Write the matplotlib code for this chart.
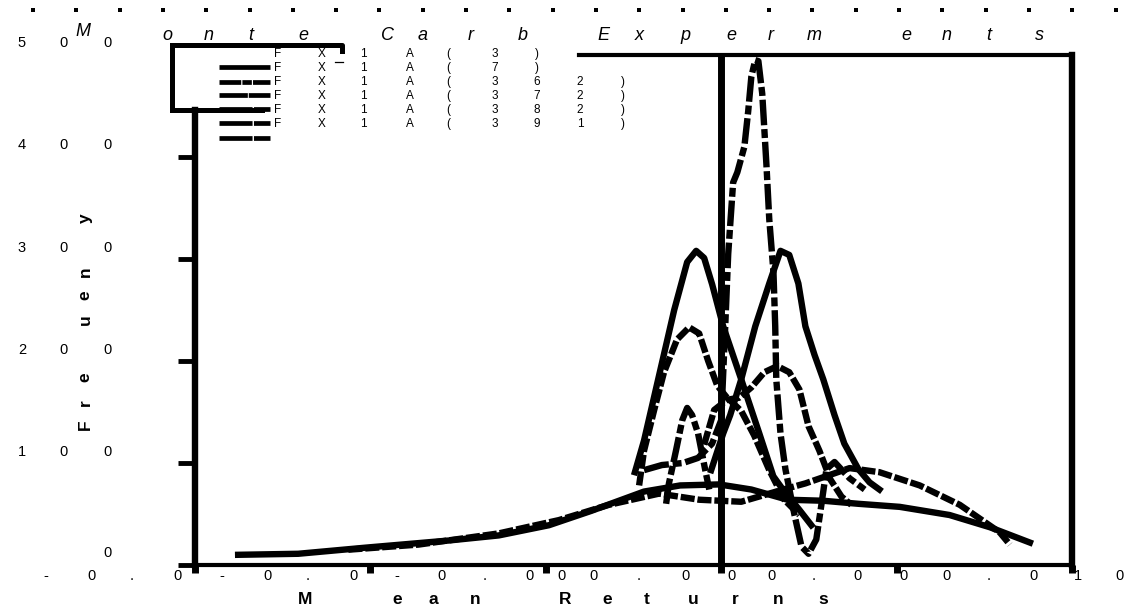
import matplotlib
matplotlib.use("Agg")
import matplotlib.pyplot as plt
from matplotlib.lines import Line2D

plt.rcParams["font.family"] = ["Liberation Sans", "DejaVu Sans"]

# ---- simulated mean-return densities (return, frequency) ----
broad_solid_x = [-0.01377, -0.01206, -0.01014, -0.00777, -0.00634, -0.00491, -0.00371, -0.0022,
                 -0.00117, -0.00006, 0.00086, 0.00189, 0.00291, 0.00391, 0.00509, 0.00651, 0.00766, 0.0088]
broad_solid_y = [10, 11, 17, 24, 29, 39, 53, 72, 78, 79, 74, 64, 63, 60, 57, 49, 37, 22]

broad_dash_x = [-0.01063, -0.00863, -0.00634, -0.00463, -0.0032, -0.00177, -0.00063, 0.00057,
                0.00177, 0.0024, 0.00366, 0.00451, 0.00566, 0.0068, 0.00794, 0.00823]
broad_dash_y = [15, 20, 31, 44, 59, 70, 64, 62, 74, 80, 95, 91, 78, 59, 32, 20]

left_solid_x = [-0.00246, -0.0022, -0.00177, -0.00134, -0.00097, -0.000714, -0.000486, -0.000257,
                0.000057, 0.000571, 0.001086, 0.001486, 0.0018, 0.00223, 0.00257]
left_solid_y = [91, 122, 186, 250, 297, 308, 301, 275, 234, 182, 129, 87, 72, 54, 39]

left_dash_x = [-0.00234, -0.0022, -0.00191, -0.00163, -0.00126, -0.000914, -0.000629, -0.000371,
               -0.000114, 0.000143, 0.000571, 0.00094, 0.00137, 0.0018, 0.00223]
left_dash_y = [78, 112, 152, 189, 221, 233, 227, 200, 176, 165, 151, 127, 93, 64, 49]

right_solid_x = [-0.000286, 0.000057, 0.000257, 0.000571, 0.000971, 0.00137, 0.00169, 0.00194,
                 0.0022, 0.0024, 0.00266, 0.00291, 0.00323, 0.00351, 0.00391, 0.00423, 0.00451]
right_solid_y = [93, 129, 147, 182, 234, 276, 308, 304, 276, 234, 206, 182, 147, 119, 94, 81, 74]

right_dash_x = [-0.000486, -0.0002, 0.000171, 0.000514, 0.000857, 0.00123, 0.0016, 0.00194,
                0.00223, 0.00249, 0.0028, 0.00311, 0.00343, 0.00371]
right_dash_y = [118, 152, 162, 164, 174, 189, 195, 189, 172, 136, 112, 84, 67, 59]

small_bump_x = [-0.00157, -0.00149, -0.00129, -0.00111, -0.00097, -0.00083, -0.00066, -0.00046, -0.00034]
small_bump_y = [60, 80, 112, 142, 154, 147, 129, 94, 74]

tall_x = [-0.0022, -0.00169, -0.00109, -0.00066, -0.00026, 0.0, 0.00011, 0.0002, 0.00034, 0.00046,
          0.00066, 0.00077, 0.00086, 0.00097, 0.00106, 0.00117, 0.00129, 0.00137, 0.00149, 0.00154,
          0.00157, 0.00169, 0.00183, 0.00209, 0.00229, 0.00249, 0.00271, 0.00286, 0.003, 0.00323,
          0.00366, 0.00409]
tall_y = [93, 98, 100, 105, 119, 142, 230, 305, 375, 385, 410, 445, 479, 495, 494, 462, 392, 339,
          287, 234, 182, 129, 94, 49, 18, 11, 25, 60, 94, 101, 85, 74]

x_ticks = [-0.015, -0.01, -0.005, 0.0, 0.005, 0.01]
y_ticks = [0, 100, 200, 300, 400]

legend_labels = ["3", "7", "362", "372", "382", "391"]

W, H = 1129, 610


def fx(px):
    return px / W


def fy(py):
    return 1 - py / H


fig = plt.figure(figsize=(W / 100, H / 100), dpi=100)
ax = fig.add_axes([fx(195), fy(565), (1072 - 195) / W, (565 - 55) / H])
ax.set_xlim(-0.015, 0.01)
ax.set_ylim(0, 500)

LW = 4.6
dashed = (0, (2.2, 0.45))
dashdot = (0, (4.0, 0.6, 1.4, 0.6))

ax.plot(broad_solid_x, broad_solid_y, color="k", lw=LW, solid_joinstyle="round")
ax.plot(broad_dash_x, broad_dash_y, color="k", lw=LW, ls=dashed)
ax.plot(left_solid_x, left_solid_y, color="k", lw=LW, solid_joinstyle="round")
ax.plot(left_dash_x, left_dash_y, color="k", lw=LW, ls=dashed)
ax.plot(right_solid_x, right_solid_y, color="k", lw=LW, solid_joinstyle="round")
ax.plot(right_dash_x, right_dash_y, color="k", lw=LW, ls=dashed)
ax.plot(small_bump_x, small_bump_y, color="k", lw=LW, ls=dashdot)
ax.plot(tall_x, tall_y, color="k", lw=LW, ls=dashdot)

ax.axvline(0, color="k", lw=5)

ax.set_xticks(x_ticks)
ax.set_yticks(y_ticks)
ax.tick_params(axis="x", direction="out", length=6, width=5, labelbottom=False)
ax.tick_params(axis="y", direction="out", length=12, width=3.5, labelleft=False)
for side in ("left", "right"):
    ax.spines[side].set_linewidth(4.6)
for side in ("top", "bottom"):
    ax.spines[side].set_linewidth(3)
ax.spines["left"].set_bounds(0, 446)
ax.spines["top"].set_bounds(-0.00406, 0.01)

# top dotted rule
fig.add_artist(Line2D([fx(33 + 43.3 * k) for k in range(26)], [fy(10)] * 26,
                      transform=fig.transFigure, ls="none", marker="s", ms=3.4, color="k",
                      markeredgewidth=0))

# title, spread letter by letter
title_chars = [("M", 83, 32), ("o", 167, 35), ("n", 209, 35), ("t", 251, 35), ("e", 303, 35),
               ("C", 387, 35), ("a", 423, 35), ("r", 471, 35), ("b", 523, 35),
               ("E", 603, 35), ("x", 639, 35), ("p", 685, 35), ("e", 731, 35), ("r", 771, 35),
               ("m", 814, 35), ("e", 906, 35), ("n", 947, 35), ("t", 989, 35), ("s", 1039, 35)]
for ch, x, y in title_chars:
    fig.text(fx(x), fy(y), ch, ha="center", va="center", fontsize=13, style="italic")

# y tick labels
for val, y in [("500", 43), ("400", 145), ("300", 248), ("200", 350), ("100", 452)]:
    for ch, x in zip(val, (22, 64, 108)):
        fig.text(fx(x), fy(y), ch, ha="center", va="center", fontsize=10.5)
fig.text(fx(108), fy(553), "0", ha="center", va="center", fontsize=10.5)

# x tick labels
xchars = "-0.0-0.0-0.000.000.000.010"
xpos = [46, 92, 132, 178, 222, 267, 308, 354, 397, 442, 485, 530, 561, 594,
        639, 685, 731, 771, 814, 858, 904, 947, 989, 1033, 1078, 1120]
for ch, x in zip(xchars, xpos):
    fig.text(fx(x), fy(576), ch, ha="center", va="center", fontsize=10.5)

# axis labels
for ch, x in [("M", 305), ("e", 397), ("a", 433), ("n", 475), ("R", 565), ("e", 607),
              ("t", 647), ("u", 693), ("r", 735), ("n", 778), ("s", 823)]:
    fig.text(fx(x), fy(599), ch, ha="center", va="center", fontsize=12.5, fontweight="bold")
for ch, y in [("F", 425), ("r", 403), ("e", 377), ("u", 320), ("e", 295), ("n", 272), ("y", 218)]:
    fig.text(fx(85), fy(y), ch, ha="center", va="center", fontsize=12.5, fontweight="bold",
             rotation=90)

# legend frame
frame_kw = dict(transform=fig.transFigure, color="k", lw=3.6, solid_capstyle="projecting")
fig.add_artist(Line2D([fx(172), fx(342), fx(342)], [fy(45), fy(45), fy(51)], **frame_kw))
fig.add_artist(Line2D([fx(172), fx(172)], [fy(45), fy(110)], **frame_kw))
fig.add_artist(Line2D([fx(172), fx(262)], [fy(110), fy(110)], **frame_kw))
fig.add_artist(Line2D([fx(335), fx(343)], [fy(62), fy(62)], transform=fig.transFigure,
                      color="k", lw=0.9))

# legend handles
handle_rows = [67, 82, 95, 109, 123, 138]
handle_styles = ["-", (0, (4.6, 0.25, 2.0, 0.25, 3.8, 0.3)), (0, (6.0, 0.2, 6.0, 0.3)),
                 (0, (7.0, 0.3, 4.0, 0.3)), (0, (7.0, 0.3, 5.0, 0.3)), (0, (7.0, 0.3, 6.0, 0.3))]
for y, ls in zip(handle_rows, handle_styles):
    fig.add_artist(Line2D([fx(219), fx(270)], [fy(y), fy(y)], transform=fig.transFigure,
                          color="k", lw=3.4, ls=ls, solid_capstyle="butt", dash_capstyle="butt"))

# legend entries, spread out character by character
row_ys = [54, 68, 82, 96, 110, 124]
for lab, y in zip(legend_labels, row_ys):
    chars = ["F", "X", "1", "A", "("] + list(lab) + [")"]
    xs = [278, 322, 363, 410, 448, 495, 537, 580, 623]
    for ch, x in zip(chars, xs):
        fig.text(fx(x), fy(y), ch, ha="center", va="center", fontsize=8.5)

fig.savefig("out.png", dpi=100)
